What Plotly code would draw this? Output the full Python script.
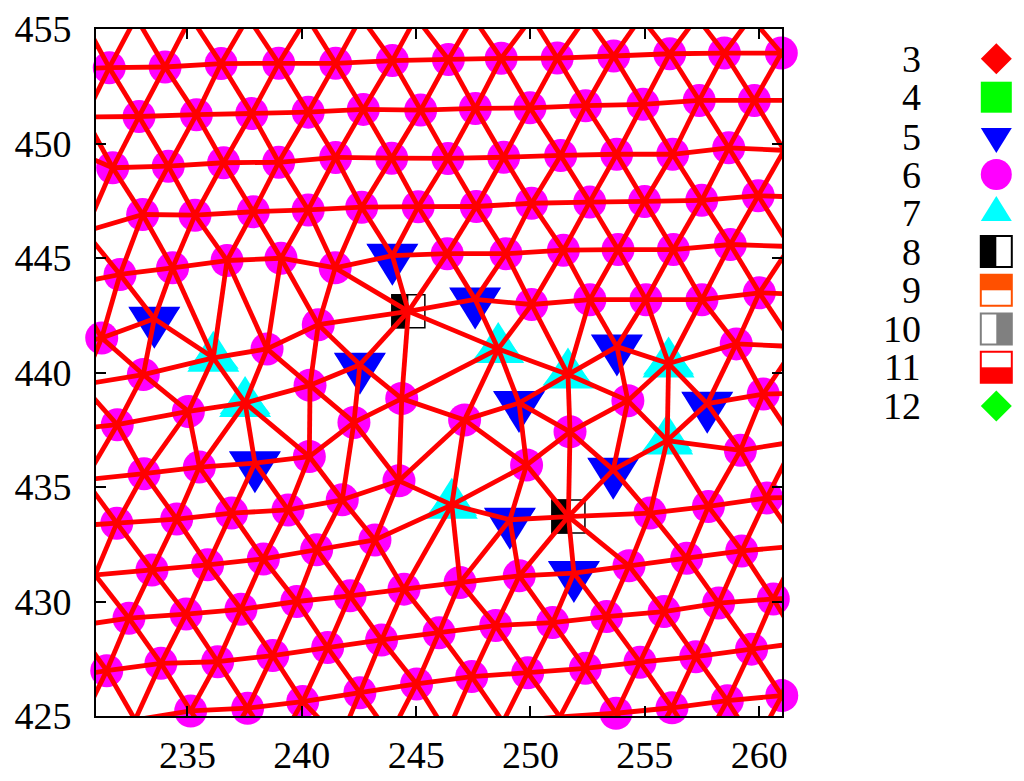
import plotly.graph_objects as go

# Series values (data units)
x6 = [231.58,234.02,236.47,238.99,241.48,243.96,246.41,248.72,251.17,253.64,256.09,258.48,260.97,
      232.88,235.39,237.81,240.28,242.69,245.20,247.59,249.98,252.41,254.92,257.38,259.79,
      231.73,234.16,236.58,238.99,241.48,243.93,246.39,248.83,251.32,253.77,256.22,258.67,
      233.04,235.33,237.88,240.28,242.62,245.09,247.63,250.05,252.59,254.99,257.49,259.96,
      232.05,234.35,236.73,239.09,241.46,246.36,248.93,251.44,253.83,256.25,258.74,
      231.25,240.72,238.48,250.05,252.60,255.05,257.50,260.01,
      233.07,240.36,235.04,231.93,244.37,242.28,240.33,235.52,233.10,244.25,241.77,239.40,236.93,234.53,231.91,
      259.00,260.18,254.26,247.12,251.73,259.18,249.83,255.23,257.78,260.33,
      243.20,240.65,238.32,235.88,233.45,
      244.47,242.11,239.78,237.34,234.94,232.44,
      246.00,243.49,241.13,238.73,236.32,233.84,231.47,
      245.02,242.54,240.04,237.63,235.14,
      246.92,249.51,254.31,256.83,259.24,
      248.48,250.97,253.33,255.84,258.23,260.62,
      247.43,249.88,252.40,254.79,257.23,259.67,
      253.74,256.19,258.61,260.99]
y6 = [453.31,453.34,453.49,453.50,453.50,453.62,453.67,453.72,453.73,453.82,453.92,453.95,453.95,
      451.18,451.26,451.31,451.37,451.49,451.46,451.53,451.56,451.65,451.71,451.88,451.88,
      448.94,449.01,449.16,449.18,449.39,449.36,449.35,449.40,449.48,449.53,449.53,449.81,
      446.90,446.87,447.02,447.10,447.22,447.24,447.25,447.39,447.44,447.47,447.52,447.72,
      444.28,444.57,444.89,444.99,444.57,445.19,445.19,445.34,445.37,445.37,445.59,
      441.51,442.09,441.03,442.97,443.18,443.18,443.18,443.48,
      439.91,439.44,438.30,437.72,438.86,437.82,436.33,435.87,435.58,435.27,434.44,434.00,433.86,433.60,433.42,
      441.25,439.06,438.77,437.93,437.41,436.60,435.96,433.86,434.15,434.52,
      432.69,432.26,431.86,431.60,431.38,
      430.54,430.25,430.00,429.66,429.45,429.27,
      428.64,428.32,427.99,427.64,427.37,427.30,426.98,
      426.40,426.02,425.63,425.34,425.22,
      430.83,431.12,431.56,431.89,432.21,
      428.95,429.08,429.34,429.56,429.93,430.11,
      426.72,426.89,427.08,427.35,427.59,427.92,
      425.12,425.36,425.67,425.89]
x5 = [233.55,243.96,247.58,242.54,237.95,253.78,249.50,257.73,253.62,249.10,251.90]
y5 = [442.35,445.10,443.19,440.34,436.04,441.13,438.67,438.64,435.75,433.57,431.24]
x7 = [236.13,237.52,248.59,251.64,256.04,255.98,246.56]
y7 = [440.64,438.67,441.03,439.91,440.39,437.03,434.22]
x8 = [244.66,251.66]
y8 = [442.67,433.71]

# Mesh nodes that lie just beyond the plotted window (only their clipped edges show)
x_out = [230.39,232.75,235.15,237.65,240.23,242.59,244.99,247.49,250.07,252.43,254.83,257.28,259.64,262.0,
         262.22,261.09,262.44,261.35,262.44,261.57,262.66,261.57,262.44,261.79,263.10,261.79,263.10,
         229.21,230.52,229.34,230.52,229.86,230.08,230.39,229.43,230.52,229.43,230.96,230.08,228.99,230.30,
         232.71,236.42,238.83,241.67,243.86,246.35,248.80,251.29,255.01,257.41,259.82,262.31]
y_out = [455.51]*14 + [451.88,449.70,447.64,445.50,443.40,441.13,439.12,436.98,434.57,432.43,430.20,428.19,426.10,
         453.24,451.16,449.96,446.16,443.84,441.22,439.47,437.46,435.32,433.26,431.16,428.93,426.57,424.61,
         424.83,423.30,423.51,423.95,424.17,424.26,424.74,424.96,423.30,423.51,423.73,423.95]

x_ticks = [235,240,245,250,255,260]
y_ticks = [425,430,435,440,445,450,455]
legend_labels = ["3","4","5","6","7","8","9","10","11","12"]

RED, MAGENTA, BLUE, CYAN = "#ff0000", "#ff00ff", "#0000ff", "#00ffff"
FONT = "Liberation Serif"
FS = 38

# Delaunay triangulation of all nodes (Bowyer-Watson)
def delaunay(xs, ys):
    pts = list(zip(xs, ys)) + [(-5000.0, -5000.0), (6000.0, -5000.0), (500.0, 6000.0)]
    n = len(xs)
    tris = [(n, n + 1, n + 2)]
    def incircle(t, p):
        (ax, ay), (bx, by), (cx, cy) = (pts[i] for i in t)
        d = 2 * (ax * (by - cy) + bx * (cy - ay) + cx * (ay - by))
        ux = ((ax*ax+ay*ay)*(by-cy) + (bx*bx+by*by)*(cy-ay) + (cx*cx+cy*cy)*(ay-by)) / d
        uy = ((ax*ax+ay*ay)*(cx-bx) + (bx*bx+by*by)*(ax-cx) + (cx*cx+cy*cy)*(bx-ax)) / d
        return (p[0]-ux)**2 + (p[1]-uy)**2 < (ax-ux)**2 + (ay-uy)**2
    for i in range(n):
        bad = [t for t in tris if incircle(t, pts[i])]
        count = {}
        for t in bad:
            for e in ((t[0], t[1]), (t[1], t[2]), (t[2], t[0])):
                k = tuple(sorted(e))
                count[k] = count.get(k, 0) + 1
        tris = [t for t in tris if t not in bad]
        tris += [(a, b, i) for (a, b), c in count.items() if c == 1]
    edges = set()
    for t in tris:
        if max(t) < n:
            for e in ((t[0], t[1]), (t[1], t[2]), (t[2], t[0])):
                edges.add(tuple(sorted(e)))
    return edges

all_x = x6 + x5 + x7 + x8 + x_out
all_y = y6 + y5 + y7 + y8 + y_out
ex, ey = [], []
for a, b in sorted(delaunay(all_x, all_y)):
    ex += [all_x[a], all_x[b], None]
    ey += [all_y[a], all_y[b], None]

fig = go.Figure()

def anchored(x, y, path, color, xref="x", yref="y", **kw):
    return dict(type="path", xref=xref, yref=yref, xsizemode="pixel", ysizemode="pixel",
                xanchor=x, yanchor=y, path=path, fillcolor=color,
                line=dict(width=0), layer="below", **kw)

TRI_DOWN = "M-26,12 L26,12 L0,-30 Z"
TRI_UP = "M-26,-14 L26,-14 L0,27 Z"
LEFT_HALF = "M-17,-17 L0,-17 L0,17 L-17,17 Z"
shapes = []
shapes += [anchored(x, y, TRI_DOWN, BLUE) for x, y in zip(x5, y5)]
shapes += [anchored(x, y, TRI_UP, CYAN) for x, y in zip(x7, y7)]
shapes += [anchored(x, y, LEFT_HALF, "#000000") for x, y in zip(x8, y8)]

fig.add_trace(go.Scatter(x=x5, y=y5, name="5", mode="markers", cliponaxis=False,
                         marker=dict(symbol="triangle-down", size=44, color=BLUE, line=dict(width=0))))
fig.add_trace(go.Scatter(x=x6, y=y6, name="6", mode="markers", cliponaxis=False,
                         marker=dict(symbol="circle", size=33, color=MAGENTA, line=dict(width=0))))
fig.add_trace(go.Scatter(x=x7, y=y7, name="7", mode="markers", cliponaxis=False,
                         marker=dict(symbol="triangle-up", size=44, color=CYAN, line=dict(width=0))))
fig.add_trace(go.Scatter(x=x8, y=y8, name="8", mode="markers", cliponaxis=False,
                         marker=dict(symbol="square-open", size=33, color="#000000", line=dict(width=1.5))))
fig.add_trace(go.Scatter(x=ex, y=ey, name="mesh", mode="lines", connectgaps=False,
                         line=dict(color=RED, width=4.8)))

# Legend column at the right, in paper coordinates
L, R, T, B = 96, 782, 29, 716
def px(v): return (v - L) / (R - L)
def py(v): return (B - v) / (B - T)
GX = 996.3
legend_y = [58.7, 97.2, 136.5, 174.5, 213, 251.5, 290.3, 329, 367.3, 406]
DIAMOND = "M0,15.5 L15.5,0 L0,-15.5 L-15.5,0 Z"
SQUARE = "M-15.5,15.5 L15.5,15.5 L15.5,-15.5 L-15.5,-15.5 Z"
def g(i, path, color): return anchored(px(GX), py(legend_y[i]), path, color, "paper", "paper")
shapes.append(g(0, DIAMOND, RED))
shapes.append(g(1, SQUARE, "#00ff00"))
shapes.append(anchored(px(GX), py(128), "M-15.5,0 L15.5,0 L0,-25 Z", BLUE, "paper", "paper"))
shapes.append(dict(type="circle", xref="paper", yref="paper", layer="below",
                   x0=px(GX - 15.5), x1=px(GX + 15.5), y0=py(legend_y[3] + 15.5), y1=py(legend_y[3] - 15.5),
                   fillcolor=MAGENTA, line=dict(width=0)))
shapes.append(anchored(px(GX), py(221), "M-15.5,0 L15.5,0 L0,25 Z", CYAN, "paper", "paper"))
def boxed(i, path, color):
    shapes.append(g(i, path, color))
    y = legend_y[i]
    shapes.append(dict(type="rect", xref="paper", yref="paper", layer="below",
                       x0=px(GX - 15.5), x1=px(GX + 15.5), y0=py(y + 15.5), y1=py(y - 15.5),
                       line=dict(color=color, width=2)))
boxed(5, "M-15.5,-15.5 L0,-15.5 L0,15.5 L-15.5,15.5 Z", "#000000")
boxed(6, "M-15.5,0 L15.5,0 L15.5,15.5 L-15.5,15.5 Z", "#ff5000")
boxed(7, "M0,-15.5 L15.5,-15.5 L15.5,15.5 L0,15.5 Z", "#808080")
boxed(8, "M-15.5,0 L15.5,0 L15.5,-15.5 L-15.5,-15.5 Z", "#ff0000")
shapes.append(g(9, DIAMOND, "#00ff00"))

annotations = [dict(text=t, xref="paper", yref="paper", x=px(923), y=py(y), xanchor="right", yanchor="middle",
                    showarrow=False, font=dict(family=FONT, size=FS, color="#000000"))
               for t, y in zip(legend_labels, legend_y)]

axis = dict(showgrid=False, zeroline=False, showline=True, linecolor="#000000", linewidth=2, mirror="allticks",
            ticks="inside", ticklen=10, tickwidth=1.5, tickcolor="#000000", automargin=False,
            tickfont=dict(family=FONT, size=FS, color="#000000"))
fig.update_layout(
    width=1024, height=781, autosize=False, showlegend=False,
    paper_bgcolor="#ffffff", plot_bgcolor="#ffffff",
    margin=dict(l=L, r=1024 - R, t=T, b=781 - B, pad=0, autoexpand=False),
    xaxis=dict(range=[231, 261], tickvals=x_ticks, ticklabelstandoff=4, **axis),
    yaxis=dict(range=[425, 455], tickvals=y_ticks, ticklabelstandoff=15, **axis),
    shapes=shapes, annotations=annotations,
)
fig.write_html("out.html", config=dict(displayModeBar=False), post_script="document.body.style.margin='0';")
